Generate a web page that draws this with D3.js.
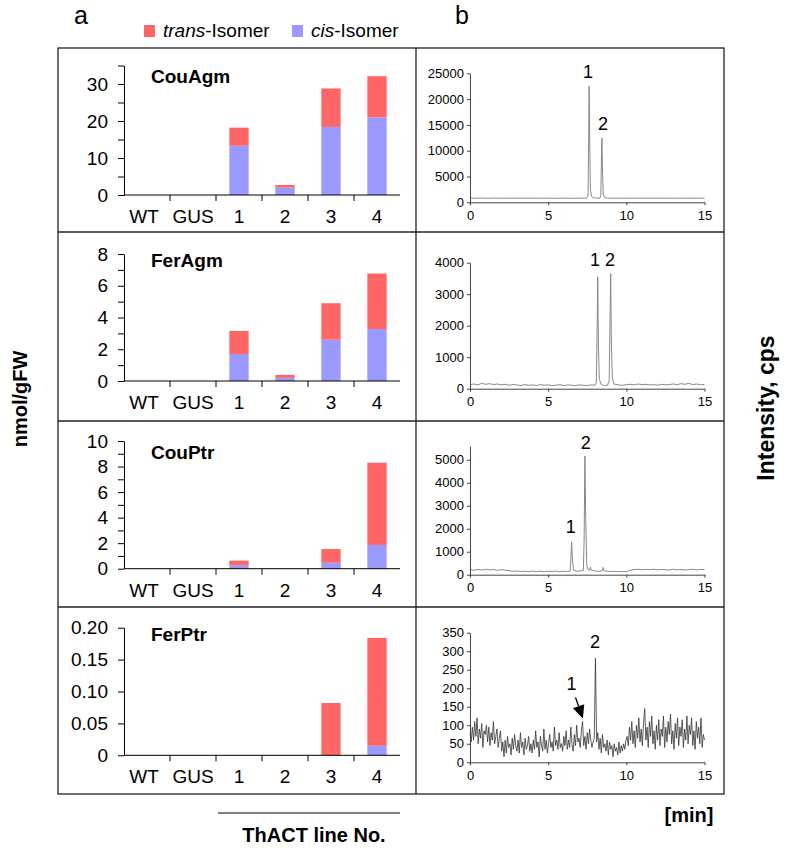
<!DOCTYPE html>
<html><head><meta charset="utf-8">
<script src="https://cdn.jsdelivr.net/npm/d3@7"></script>
<style>body{margin:0;background:#fff}svg{display:block}text{font-family:"Liberation Sans",Arial,Helvetica,sans-serif}</style>
</head><body>
<script>
// ---------- DATA ----------
const categories = ["WT","GUS","1","2","3","4"];
const seriesNames = ["trans-Isomer","cis-Isomer"];
const compounds = ["CouAgm","FerAgm","CouPtr","FerPtr"];
// nmol/gFW, cis part and trans part (stacked)
const couAgmCis   = [0,0,13.3,2.0,18.4,21.0];
const couAgmTrans = [0,0,4.9,0.7,10.4,11.1];
const ferAgmCis   = [0,0,1.7,0.2,2.6,3.27];
const ferAgmTrans = [0,0,1.45,0.18,2.3,3.5];
const couPtrCis   = [0,0,0.27,0,0.47,1.86];
const couPtrTrans = [0,0,0.36,0,1.07,6.44];
const ferPtrCis   = [0,0,0,0,0,0.015];
const ferPtrTrans = [0,0,0,0,0.082,0.169];
const barMax = [35,8,10,0.2];
const barMajorTicks = [[0,10,20,30],[0,2,4,6,8],[0,2,4,6,8,10],[0,0.05,0.10,0.15,0.20]];
const barMinorTicks = [[5,15,25,35],[1,3,5,7],[1,3,5,7,9],[]];
const barTickLabels = [["0","10","20","30"],["0","2","4","6","8"],["0","2","4","6","8","10"],["0","0.05","0.10","0.15","0.20"]];

// chromatograms: [time (min), intensity (cps)]
const chromTimeTicks = [0,5,10,15];
const chromMax = [25000,4000,5600,350];
const chromYTicks = [[0,5000,10000,15000,20000,25000],[0,1000,2000,3000,4000],[0,1000,2000,3000,4000,5000],[0,50,100,150,200,250,300,350]];
const chrom1 = [[0,820],[0.3,790],[0.6,830],[0.9,800],[1.2,780],[1.5,820],[1.8,790],[2.1,810],[2.4,780],[2.7,800],[3,790],[3.3,810],[3.6,780],[3.9,800],[4.2,790],[4.5,810],[4.8,780],[5.1,800],[5.4,790],[5.7,780],[6,800],[6.3,790],[6.6,780],[6.9,800],[7.2,790],[7.45,800],[7.55,1200],[7.59,12000],[7.62,22500],[7.65,14000],[7.7,2500],[7.78,1100],[7.9,900],[8.1,820],[8.3,800],[8.37,1300],[8.41,9000],[8.44,12500],[8.47,7000],[8.52,1500],[8.6,900],[8.8,820],[9.1,800],[9.4,790],[9.7,810],[10,780],[10.3,800],[10.6,820],[10.9,790],[11.2,800],[11.5,780],[11.8,810],[12.1,790],[12.4,800],[12.7,780],[13,810],[13.3,790],[13.6,800],[13.9,780],[14.2,800],[14.5,790],[14.8,810],[15,800]];
const chrom2 = [[0,130],[0.25,150],[0.5,120],[0.75,170],[1,140],[1.25,160],[1.5,130],[1.75,150],[2,120],[2.25,140],[2.5,110],[2.75,130],[3,120],[3.25,100],[3.5,130],[3.75,110],[4,120],[4.25,100],[4.5,130],[4.75,110],[5,120],[5.25,100],[5.5,110],[5.75,130],[6,100],[6.25,120],[6.5,110],[6.75,100],[7,120],[7.25,110],[7.5,100],[7.75,120],[8,110],[8.08,200],[8.13,1800],[8.17,3550],[8.21,1500],[8.27,300],[8.4,130],[8.6,100],[8.8,110],[8.9,250],[8.95,1900],[9,3650],[9.04,1600],[9.1,350],[9.2,150],[9.5,120],[9.75,110],[10,130],[10.25,140],[10.5,120],[10.75,150],[11,130],[11.25,140],[11.5,120],[11.75,130],[12,110],[12.25,140],[12.5,120],[12.75,130],[13,150],[13.25,130],[13.5,160],[13.75,140],[14,170],[14.25,130],[14.5,150],[14.75,120],[15,140]];
const chrom3 = [[0,220],[0.25,190],[0.5,230],[0.75,200],[1,240],[1.25,210],[1.5,230],[1.75,190],[2,220],[2.25,200],[2.5,170],[2.75,150],[3,160],[3.25,140],[3.5,150],[3.75,130],[4,160],[4.25,140],[4.5,150],[4.75,130],[5,150],[5.25,140],[5.5,160],[5.75,130],[6,150],[6.25,140],[6.4,160],[6.45,600],[6.5,1420],[6.55,700],[6.62,200],[6.8,150],[7,160],[7.25,180],[7.3,1500],[7.35,5170],[7.4,2500],[7.47,400],[7.55,220],[7.65,200],[7.7,330],[7.75,200],[8,160],[8.25,150],[8.45,170],[8.5,320],[8.55,170],[8.75,150],[9,140],[9.25,150],[9.5,130],[9.75,140],[10,130],[10.25,200],[10.5,220],[10.75,240],[11,210],[11.25,230],[11.5,220],[11.75,240],[12,210],[12.25,230],[12.5,220],[12.75,200],[13,240],[13.25,210],[13.5,230],[13.75,200],[14,220],[14.25,240],[14.5,210],[14.75,230],[15,220]];
// FerPtr chromatogram sampled every 0.075 min from 0 to 15 min
const chrom4Step = 0.075;
const chrom4Values = [80,55,95,60,110,70,120,50,90,65,105,40,85,75,100,55,95,45,80,60,110,50,70,90,40,65,85,
30,55,15,60,25,70,40,50,20,65,35,75,45,30,60,25,80,40,55,20,65,35,45,70,30,50,25,
60,35,85,40,55,15,70,45,30,90,35,60,25,50,75,40,55,30,95,45,60,35,80,40,50,30,70,
45,85,35,60,40,95,50,30,75,45,100,55,65,40,85,110,45,70,35,80,50,90,60,40,55,65,
281,
55,80,35,65,25,75,40,50,30,60,20,55,35,45,15,50,30,40,20,55,25,45,30,50,35,60,
70,45,95,60,110,50,85,40,100,65,120,55,90,45,105,145,60,95,40,110,70,125,50,85,35,100,60,115,45,90,70,125,40,95,55,110,75,130,50,85,35,105,65,120,45,95,70,115,40,90,60,125,50,100,75,120,45,85,35,110,65,95,50,120,40,75,60];
// peak labels [text, time, intensity]
const peakLabels = [
  [["1",7.55,24000],["2",8.5,14000]],
  [["1",8.0,3900],["2",8.96,3900]],
  [["1",6.44,1820],["2",7.4,5480]],
  [["1",6.5,195],["2",8.0,308]]
];
const arrow4 = [[6.75,175],[7.22,118]];

// ---------- LAYOUT ----------
const W=785,H=849;
const colors = {trans:"#ff6666", cis:"#9999ff"};
const box = {x0:58,x1:724,y0:48,y1:794,xm:416};
const rowLines = [232,421,607];
const barX = [124,400];
const barY = [[195,65.5],[381,254],[568.7,441],[755.3,627.7]];
const titleY = [83,267,459,641];
const chrX = [470,704.5];
const chrY = [[202.3,73.3],[388.7,262.7],[574.7,446],[762.3,632.7]];

const svg = d3.select("body").append("svg").attr("width",W).attr("height",H);

// frame
const fr = svg.append("g").attr("stroke","#222").attr("stroke-width",1.3).attr("fill","none");
fr.append("rect").attr("x",box.x0).attr("y",box.y0).attr("width",box.x1-box.x0).attr("height",box.y1-box.y0);
fr.append("line").attr("x1",box.xm).attr("x2",box.xm).attr("y1",box.y0).attr("y2",box.y1);
rowLines.forEach(y=>fr.append("line").attr("x1",box.x0).attr("x2",box.x1).attr("y1",y).attr("y2",y));

// panel letters
svg.append("text").attr("x",81).attr("y",24).attr("text-anchor","middle").attr("font-size",25).text("a");
svg.append("text").attr("x",462).attr("y",24).attr("text-anchor","middle").attr("font-size",25).text("b");

// legend
const leg = svg.append("g");
[[144,colors.trans,"trans"],[292,colors.cis,"cis"]].forEach(([x,c,word])=>{
  leg.append("rect").attr("x",x).attr("y",25).attr("width",11).attr("height",12).attr("fill",c);
  const t = leg.append("text").attr("x",x+19).attr("y",37).attr("font-size",19);
  t.append("tspan").attr("font-style","italic").text(word);
  t.append("tspan").text("-Isomer");
});

// bar panels
const barData = [[couAgmCis,couAgmTrans],[ferAgmCis,ferAgmTrans],[couPtrCis,couPtrTrans],[ferPtrCis,ferPtrTrans]];
const xb = d3.scaleBand().domain(categories).range(barX);
barData.forEach(([cis,trans],i)=>{
  const g = svg.append("g");
  const y = d3.scaleLinear().domain([0,barMax[i]]).range(barY[i]);
  const bw = xb.bandwidth()*0.42;
  categories.forEach((c,j)=>{
    const x = xb(c)+(xb.bandwidth()-bw)/2;
    if(cis[j]>0) g.append("rect").attr("x",x).attr("width",bw).attr("y",y(cis[j])).attr("height",y(0)-y(cis[j])).attr("fill",colors.cis);
    if(trans[j]>0) g.append("rect").attr("x",x).attr("width",bw).attr("y",y(cis[j]+trans[j])).attr("height",y(cis[j])-y(cis[j]+trans[j])).attr("fill",colors.trans);
  });
  const major = barMajorTicks[i], labels = barTickLabels[i];
  const ax = d3.axisLeft(y).tickValues(major.concat(barMinorTicks[i])).tickSize(6).tickSizeOuter(0).tickPadding(10)
    .tickFormat(d=>{const k=major.findIndex(m=>Math.abs(m-d)<1e-9);return k>=0?labels[k]:"";});
  const ga = g.append("g").attr("transform",`translate(${barX[0]},0)`).call(ax);
  ga.selectAll("text").attr("font-size",19).attr("fill","#000");
  ga.selectAll("line,path").attr("stroke","#000");
  // x axis
  g.append("line").attr("x1",barX[0]).attr("x2",barX[1]).attr("y1",y(0)).attr("y2",y(0)).attr("stroke","#000");
  categories.slice(1).forEach(c=>g.append("line").attr("x1",xb(c)).attr("x2",xb(c)).attr("y1",y(0)).attr("y2",y(0)+6).attr("stroke","#000"));
  categories.forEach((c,j)=>g.append("text").attr("x",xb(c)+xb.bandwidth()/2-(j===0?3:0)).attr("y",y(0)+28).attr("text-anchor","middle").attr("font-size",19).text(c));
  g.append("text").attr("x",151).attr("y",titleY[i]).attr("font-size",19).attr("font-weight","bold").text(compounds[i]);
});

// chromatograms
const chromData = [chrom1,chrom2,chrom3,chrom4Values.map((v,k)=>[k*chrom4Step,v])];
const xc = d3.scaleLinear().domain([0,15]).range(chrX);
chromData.forEach((data,i)=>{
  const g = svg.append("g");
  const y = d3.scaleLinear().domain([0,chromMax[i]]).range(chrY[i]);
  g.append("path").datum(data).attr("fill","none").attr("stroke",i===3?"#333":"#888").attr("stroke-width",i===3?0.8:1)
    .attr("d",d3.line().x(d=>xc(d[0])).y(d=>y(d[1])));
  const ay = g.append("g").attr("transform",`translate(${chrX[0]},0)`)
    .call(d3.axisLeft(y).tickValues(chromYTicks[i]).tickSize(3).tickSizeOuter(0).tickPadding(3).tickFormat(d3.format("d")));
  const axx = g.append("g").attr("transform",`translate(0,${chrY[i][0]})`)
    .call(d3.axisBottom(xc).tickValues(chromTimeTicks).tickSize(3).tickSizeOuter(0).tickPadding(5));
  [ay,axx].forEach(a=>{a.selectAll("text").attr("font-size",13).attr("fill","#000");a.selectAll("line,path").attr("stroke","#444");});
  peakLabels[i].forEach(([t,tm,v])=>g.append("text").attr("x",xc(tm)).attr("y",y(v)).attr("text-anchor","middle").attr("font-size",18).text(t));
  if(i===3){
    const [p0,p1]=arrow4.map(d=>[xc(d[0]),y(d[1])]);
    const dx=p1[0]-p0[0], dy=p1[1]-p0[1], L=Math.hypot(dx,dy), ux=dx/L, uy=dy/L;
    const hb=[p1[0]-ux*13,p1[1]-uy*13];
    g.append("line").attr("x1",p0[0]).attr("y1",p0[1]).attr("x2",hb[0]).attr("y2",hb[1]).attr("stroke","#000").attr("stroke-width",1.3);
    g.append("path").attr("d",`M${p1[0]},${p1[1]}L${hb[0]-uy*6},${hb[1]+ux*6}L${hb[0]+uy*6},${hb[1]-ux*6}Z`).attr("fill","#000");
  }
});

// axis titles
svg.append("text").attr("transform","translate(27,399) rotate(-90)").attr("text-anchor","middle").attr("font-size",20).attr("font-weight","bold").text("nmol/gFW");
svg.append("text").attr("transform","translate(774,408) rotate(-90)").attr("text-anchor","middle").attr("font-size",23).attr("font-weight","bold").text("Intensity, cps");
svg.append("text").attr("x",689).attr("y",822).attr("text-anchor","middle").attr("font-size",20).attr("font-weight","bold").text("[min]");
svg.append("line").attr("x1",218).attr("x2",400).attr("y1",813).attr("y2",813).attr("stroke","#000").attr("stroke-width",1.2);
svg.append("text").attr("x",314).attr("y",842).attr("text-anchor","middle").attr("font-size",20).attr("font-weight","bold").text("ThACT line No.");
</script>
</body></html>
